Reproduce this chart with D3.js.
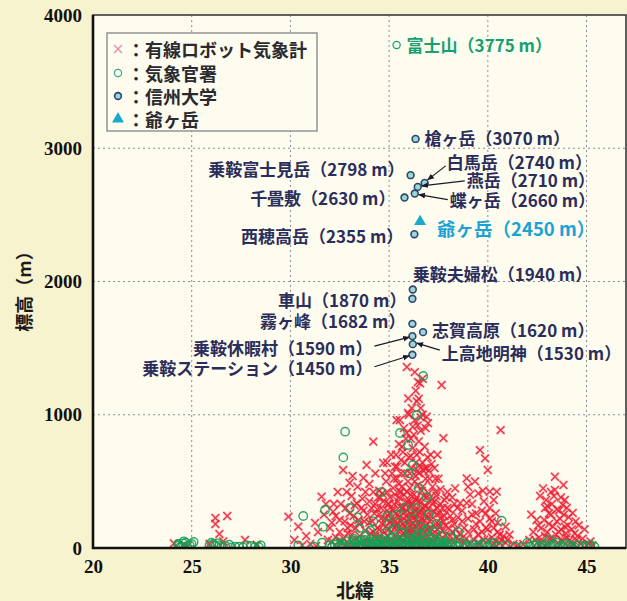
<!DOCTYPE html>
<html>
<head>
<meta charset="utf-8">
<script src="https://cdn.jsdelivr.net/npm/d3@7"></script>
<style>
  body { margin: 0; background: #f7f3cf; }
  svg { display: block; }
</style>
</head>
<body>
<svg id="chart" width="627" height="601"></svg>
<script>
// ---- data ----------------------------------------------------------
const xTicks = [20, 25, 30, 35, 40, 45];
const yTicks = [0, 1000, 2000, 3000, 4000];
const xTitle = "北緯";
const yTitle = "標高（m）";
const legendLabels = ["有線ロボット気象計", "気象官署", "信州大学", "爺ヶ岳"];

// 有線ロボット気象計 [latitude, elevation m]
const robotStations = [
  [24.1,35],[24.6,20],[26.2,225],[26.2,180],[26.8,240],[26.4,105],[27.7,60],[25.9,30],[24.8,15],[26.6,50],[28.3,25],
  [29.9,235],[30.4,160],[30.2,60],[31.25,188],[31.58,385],[30.8,90],[31.0,30],[31.4,120],[31.9,60],[31.7,250],[32.16,272],
  [31.3,15],[32.0,150],[30.6,20],[31.8,330],
  [32.67,585],[33.0,488],[33.7,525],[33.86,623],[33.36,335],[32.4,420],[32.5,210],[32.8,300],[32.9,150],[33.1,390],
  [33.2,240],[33.4,460],[33.5,180],[33.6,300],[33.8,420],[33.9,250],[32.3,80],[32.6,40],[32.9,110],[33.2,60],[33.5,90],
  [33.8,130],[33.95,30],[33.3,20],[32.2,330],[32.1,190],[33.0,260],[33.65,370],[33.15,540],[32.45,50],[33.75,200],
  [34.0,480],[34.2,798],[34.0,350],
  [32.1,50],[32.3,240],[32.5,120],[32.55,330],[32.7,70],[32.75,200],[32.85,420],[32.95,30],[33.05,170],[33.25,320],
  [34.7,638],[34.3,560],[34.5,430],[34.6,300],[34.8,220],[34.4,150],[34.9,90],[34.1,40],[34.25,260],[34.55,380],
  [34.85,500],[34.95,330],[34.35,70],[34.65,180],[34.75,120],[34.15,200],[34.45,20],[34.9,420],[34.6,50],[34.3,330],
  [34.8,560],[34.5,250],[34.05,110],[34.7,30],[34.2,120],[34.4,290],[34.65,410],[34.85,160],[34.95,240],[34.55,90],
  [35.1,700],[35.3,610],[35.2,450],[35.4,520],[35.6,660],[35.5,380],[35.7,300],[35.8,560],[35.9,420],[35.0,260],
  [35.15,180],[35.35,90],[35.55,140],[35.75,220],[35.95,120],[35.25,330],[35.45,250],[35.65,460],[35.85,340],[35.05,60],
  [35.4,30],[35.7,50],[35.9,80],[35.2,210],[35.6,200],[35.8,160],[35.3,400],[35.5,480],[35.1,120],[35.9,280],
  [35.38,960],[35.9,863],[35.97,1123],[35.96,1013],[35.9,1358],[35.7,720],[35.5,780],[35.8,640],[35.35,700],[35.6,560],
  [35.05,380],[35.45,150],[35.75,400],[35.95,500],[35.25,40],[35.65,100],[35.15,290],[35.55,310],[35.85,240],[35.35,170],
  [35.6,420],[35.0,140],[35.75,110],[35.45,350],[35.25,520],
  [36.3,960],[36.57,1236],[36.46,1246],[36.9,985],[36.97,937],[36.1,820],[36.2,750],[36.4,700],[36.6,880],[36.8,760],
  [36.15,600],[36.35,540],[36.55,620],[36.75,580],[36.95,680],[36.05,450],[36.25,400],[36.45,470],[36.65,430],[36.85,520],
  [36.1,330],[36.3,280],[36.5,350],[36.7,300],[36.9,380],[36.0,220],[36.2,180],[36.4,240],[36.6,160],[36.8,210],
  [36.95,140],[36.05,90],[36.25,60],[36.45,110],[36.65,70],[36.85,40],[36.15,30],[36.55,25],[36.35,150],[36.75,120],
  [36.6,1050],[36.4,1100],[36.2,910],[36.7,1000],[36.5,800],[36.0,680],[36.9,600],[36.3,500],[36.7,460],[36.1,260],
  [36.5,200],[36.8,320],[36.35,360],[36.6,270],[36.15,140],[36.9,250],[36.45,580],[36.05,350],[36.75,390],[36.25,230],
  [33.1,100],[33.3,150],[33.45,210],[33.55,40],[33.7,280],[33.85,60],[34.0,190],[34.1,300],[34.2,420],[34.3,90],
  [34.45,380],[34.5,140],[34.6,220],[34.7,350],[34.8,60],[34.9,280],[35.0,330],[35.05,200],[35.1,40],[35.2,280],
  [35.3,150],[35.35,260],[35.4,190],[35.45,60],[35.5,230],[35.55,420],[35.6,80],[35.65,300],[35.7,180],[35.75,50],
  [35.8,270],[35.85,120],[35.9,350],[35.95,200],[36.0,130],[36.0,300],[36.05,170],[36.1,60],[36.1,400],[36.15,250],
  [36.2,100],[36.2,330],[36.25,140],[36.3,210],[36.3,40],[36.35,280],[36.4,160],[36.4,380],[36.45,60],[36.5,270],
  [36.5,100],[36.55,190],[36.6,340],[36.65,220],[36.7,140],[36.7,40],[36.75,260],[36.8,80],[36.85,310],[36.9,170],
  [36.95,230],[37.0,90],[37.0,410],[37.05,200],[37.1,150],[37.15,360],[37.2,50],[37.25,280],[37.3,120],[37.35,420],
  [37.4,80],[37.45,300],[37.5,180],[37.55,100],[37.6,330],[37.65,230],[37.7,130],[37.75,40],[37.8,240],[37.85,170],
  [37.9,380],[38.0,150],[38.05,290],[38.1,90],[38.2,210],[38.25,40],[38.3,330],[38.4,140],[38.5,230],[38.55,60],
  [34.9,640],[35.15,560],[35.4,610],[35.65,760],[35.85,820],[36.05,560],[36.1,690],[36.25,850],[36.35,640],[36.5,560],
  [36.55,720],[36.7,640],[36.8,600],[36.85,900],[36.45,920],[36.15,1050],[36.35,1180],[36.5,1120],[36.6,980],[37.0,580],
  [37.15,630],[37.35,520],[37.45,700],[35.75,900],[35.55,960],[36.0,1000],[36.3,1320],[36.7,1270],
  [37.66,1223],[37.75,825],[37.1,700],[37.3,600],[37.5,520],[37.2,460],[37.4,390],[37.6,440],[37.8,360],[37.0,300],
  [37.15,240],[37.35,180],[37.55,260],[37.75,200],[37.95,300],[38.1,240],[38.3,180],[37.05,120],[37.25,80],[37.45,140],
  [37.65,60],[37.85,100],[38.0,50],[38.2,120],[38.4,80],[37.1,30],[37.5,20],[37.9,30],[38.34,448],[38.2,380],
  [37.95,420],[38.45,300],[37.3,350],[37.7,300],[37.05,520],[37.4,250],[37.6,160],[37.2,330],
  [38.93,523],[39.6,735],[39.86,673],[40.0,585],[40.1,423],[40.45,423],[39.52,410],[38.6,338],[38.93,338],[40.1,300],
  [40.65,885],[39.2,250],[39.4,180],[39.0,120],[38.7,200],[39.7,280],[39.9,150],[40.2,200],[40.5,120],[40.8,90],
  [39.3,60],[38.8,40],[39.6,30],[40.0,60],[40.3,35],[40.6,40],[41.0,60],[41.3,30],[40.4,260],[39.8,350],
  [39.1,400],[38.6,100],[40.9,160],[39.5,100],
  [38.7,280],[38.8,150],[38.9,70],[39.0,220],[39.1,30],[39.2,330],[39.3,140],[39.4,260],[39.5,40],[39.6,200],
  [39.7,120],[39.8,60],[39.9,260],[40.0,140],[40.1,220],[40.2,80],[40.3,150],[40.4,50],[40.5,190],[40.6,100],
  [40.7,60],[40.9,40],[41.1,100],[39.0,460],[39.35,500],[39.75,430],[40.3,360],
  [41.8,30],[42.1,60],[42.47,210],[42.65,390],[42.8,448],[43.05,310],[43.4,535],[43.4,435],[43.83,473],[43.8,323],
  [44.3,263],[42.3,120],[42.5,40],[42.7,150],[42.9,90],[43.1,180],[43.2,250],[43.3,60],[43.5,200],[43.6,120],
  [43.7,380],[43.9,160],[44.0,80],[44.1,230],[44.2,40],[44.4,110],[44.5,60],[44.7,30],[45.0,20],[45.2,50],
  [42.9,300],[43.6,280],[43.0,30],[43.8,50],[44.6,170],[42.2,250],[42.6,80],[41.5,20],
  [42.4,60],[42.55,170],[42.75,40],[42.85,210],[43.0,120],[43.1,260],[43.15,70],[43.25,330],[43.3,160],[43.35,390],
  [43.45,100],[43.5,290],[43.55,40],[43.65,220],[43.7,140],[43.75,60],[43.85,250],[43.95,110],[44.05,170],[44.15,60],
  [44.25,140],[44.35,30],[44.45,200],[44.55,90],[44.8,70],[44.9,140],[45.1,30],[45.3,20],[43.2,420],[43.9,360],
  [42.95,360],[44.0,300]
];

// 気象官署 [latitude, elevation m]
const jmaStations = [
  [24.3,30],[24.5,10],[24.7,40],[24.9,20],[25.1,45],[24.4,5],[26.2,15],[26.5,8],[27.0,5],[27.4,10],[27.8,20],[28.2,5],
  [28.4,8],[26.0,40],[26.3,35],
  [24.35,20],[24.55,35],[24.75,10],[25.0,30],[24.6,50],[25.9,20],[26.1,30],[26.4,20],[26.7,15],[26.9,25],[27.2,10],
  [27.6,5],[28.0,15],[28.5,20],
  [30.65,240],[31.75,285],[31.65,160],[32.77,873],[32.68,680],[30.4,20],[31.2,10],[31.6,40],[32.0,20],[32.4,5],
  [33.0,15],[33.3,30],[33.6,10],[33.9,40],[34.1,20],[34.3,5],[34.5,30],[34.7,15],[34.9,50],[35.1,10],[35.3,25],
  [35.5,5],[35.7,40],[35.9,20],[36.1,10],[36.3,35],[36.5,15],[36.7,5],[36.9,30],[37.1,20],[37.3,10],[37.5,40],
  [37.7,5],[37.9,15],[33.2,70],[33.8,90],[34.4,60],[34.8,110],[35.2,80],[35.6,120],[36.0,60],[36.4,90],[36.8,130],
  [37.2,70],[37.6,50],[33.5,150],[34.2,200],[35.0,180],[35.4,250],[35.8,300],[36.2,220],[36.6,160],[37.0,250],
  [37.4,180],[35.55,863],[36.4,998],[35.96,773],[36.2,623],[36.73,1291],[36.0,560],[36.5,450],[36.9,380],[34.6,420],
  [33.0,300],[33.4,230],
  [32.1,5],[32.25,25],[32.35,45],[32.5,15],[32.6,35],[32.7,10],[32.85,50],[32.95,20],[33.1,40],[33.15,5],[33.25,55],
  [33.4,15],[33.45,45],[33.55,25],[33.7,5],[33.75,60],[33.85,20],[34.0,10],[34.0,50],[34.15,35],[34.25,55],[34.35,20],
  [34.45,45],[34.55,5],[34.6,65],[34.75,40],[34.85,10],[35.0,35],[35.05,70],[35.15,50],[35.2,15],[35.35,5],[35.4,55],
  [35.45,30],[35.6,20],[35.65,60],[35.8,10],[35.85,45],[36.0,30],[36.05,75],[36.2,50],[36.25,15],[36.35,65],[36.45,40],
  [36.55,5],[36.6,55],[36.75,25],[36.85,60],[37.0,5],[37.05,45],[37.2,35],[37.35,55],[37.45,15],[37.55,25],[37.8,40],
  [38.0,10],[38.1,35],[38.35,20],[38.6,40],[38.95,10],[39.25,30],[39.55,15],[39.85,40],[40.15,20],[40.5,10],
  [33.6,60],[34.05,130],[34.9,240],[35.25,140],[35.7,170],[36.1,120],[36.35,300],[36.55,100],[36.95,140],[37.3,120],
  [37.7,90],[38.1,80],[38.5,120],
  [38.2,20],[38.5,10],[38.8,30],[39.1,15],[39.4,5],[39.7,25],[40.0,10],[40.3,40],[40.7,205],[40.9,20],[41.4,10],
  [41.8,5],[42.3,20],[42.6,10],[42.9,30],[43.2,15],[43.5,40],[43.8,10],[44.1,25],[44.4,5],[44.8,15],[45.4,10],
  [43.1,60],[42.0,40],
  [42.15,10],[42.45,30],[42.75,15],[43.05,5],[43.35,25],[43.65,10],[43.95,30],[44.25,15],[44.6,20],[45.0,5],[45.2,25]
];

// 富士山 (気象官署)
const fujiName = "富士山";
const fujiLat = 35.38;
const fujiElev = 3775;

// 信州大学
const shinshuNames = ["槍ヶ岳","乗鞍富士見岳","白馬岳","燕岳","蝶ヶ岳","千畳敷","西穂高岳",
  "乗鞍夫婦松","車山","霧ヶ峰","志賀高原","乗鞍休暇村","上高地明神","乗鞍ステーション"];
const shinshuLat  = [36.34, 36.09, 36.80, 36.45, 36.30, 35.78, 36.28, 36.20, 36.18, 36.18, 36.72, 36.18, 36.20, 36.18];
const shinshuElev = [3070, 2798, 2740, 2710, 2660, 2630, 2355, 1940, 1870, 1682, 1620, 1590, 1530, 1450];

// 爺ヶ岳
const jiiName = "爺ヶ岳";
const jiiLat = 36.57;
const jiiElev = 2450;

// ---- label placement (pixel offsets from the marker) ---------------
// [dx, dy, anchor, arrowStartDx, arrowStartDy, arrowEndDx, arrowEndDy]
const labelLayout = {
  "槍ヶ岳":         [9, -1, "start"],
  "乗鞍富士見岳":   [-6, -7, "end"],
  "白馬岳":         [22, -21, "start", 21, -17, 3, -3],
  "燕岳":           [49, -7, "start", 47, -6, 4, -1],
  "蝶ヶ岳":         [35, 6, "start", 33, 6, 4, 1],
  "千畳敷":         [-9, 0, "end"],
  "西穂高岳":       [-11, 1, "end"],
  "乗鞍夫婦松":     [0, -16, "start"],
  "車山":           [-6, 1, "end"],
  "霧ヶ峰":         [-7, -3, "end"],
  "志賀高原":       [9, -3, "start"],
  "乗鞍休暇村":     [-40, 11, "end", -38, 10, -3, 1],
  "上高地明神":     [29, 8, "start", 27, 6, 4, -1],
  "乗鞍ステーション": [-40, 13, "end", -38, 12, -3, 1]
};

// ---- chart ---------------------------------------------------------
const W = 627, H = 601;
const plot = { left: 93, right: 626, top: 15, bottom: 548 };
const JP = "'Noto Sans CJK JP', 'Noto Sans', sans-serif";
const SERIF = "'Liberation Serif', 'DejaVu Serif', serif";
const labelColor = "#2b2d5a";
const stationLabel = (name, elev) => `${name}（${elev} m）`;

const svg = d3.select("#chart");
const x = d3.scaleLinear().domain([20, 47]).range([plot.left, plot.right]);
const y = d3.scaleLinear().domain([0, 4000]).range([plot.bottom, plot.top]);

svg.append("rect").attr("width", W).attr("height", H).attr("fill", "#f7f3cf");
svg.append("rect")
  .attr("x", plot.left).attr("y", plot.top)
  .attr("width", plot.right - plot.left).attr("height", plot.bottom - plot.top)
  .attr("fill", "#fdfcef");

const defs = svg.append("defs");
defs.append("clipPath").attr("id", "plotClip").append("rect")
  .attr("x", plot.left).attr("y", plot.top)
  .attr("width", plot.right - plot.left).attr("height", plot.bottom - plot.top);
defs.append("marker")
  .attr("id", "arrowHead").attr("viewBox", "0 0 10 10")
  .attr("refX", 9).attr("refY", 5)
  .attr("markerWidth", 7).attr("markerHeight", 7)
  .attr("markerUnits", "userSpaceOnUse")
  .attr("orient", "auto")
  .append("path").attr("d", "M0,1L10,5L0,9Z").attr("fill", "#1a1a2a");

// grid
const grid = svg.append("g").attr("stroke", "#8c8c9c").attr("stroke-width", 1)
  .attr("stroke-dasharray", "2,3");
grid.selectAll("line.v").data(xTicks.filter(t => t > 20)).join("line")
  .attr("x1", d => x(d)).attr("x2", d => x(d))
  .attr("y1", plot.top).attr("y2", plot.bottom);
grid.selectAll("line.h").data(yTicks.filter(t => t > 0 && t < 4000)).join("line")
  .attr("x1", plot.left).attr("x2", plot.right)
  .attr("y1", d => y(d)).attr("y2", d => y(d));

// points
const pts = svg.append("g").attr("clip-path", "url(#plotClip)");
const xSym = d3.symbol().type(d3.symbolTimes).size(42);
const robotG = pts.append("g");
robotG.selectAll("path.halo").data(robotStations).join("path")
  .attr("class", "halo")
  .attr("d", xSym)
  .attr("transform", d => `translate(${x(d[0])},${y(d[1])})`)
  .attr("fill", "none").attr("stroke", "#f6a8bc").attr("stroke-width", 3.4)
  .attr("stroke-opacity", 0.4);
robotG.selectAll("path.core").data(robotStations).join("path")
  .attr("class", "core")
  .attr("d", xSym)
  .attr("transform", d => `translate(${x(d[0])},${y(d[1])})`)
  .attr("fill", "none").attr("stroke", "#ec2232").attr("stroke-width", 1.4)
  .attr("stroke-opacity", 0.9);

pts.append("g").selectAll("circle").data(jmaStations).join("circle")
  .attr("cx", d => x(d[0])).attr("cy", d => y(d[1])).attr("r", 4.2)
  .attr("fill", "none").attr("stroke", "#16a055").attr("stroke-width", 1.4)
  .attr("stroke-opacity", 0.9);

pts.append("circle")
  .attr("cx", x(fujiLat)).attr("cy", y(fujiElev)).attr("r", 3.6)
  .attr("fill", "#eef8f2").attr("stroke", "#17a06a").attr("stroke-width", 1.2);

const shinshu = shinshuNames.map((n, i) => ({ name: n, lat: shinshuLat[i], elev: shinshuElev[i] }));
pts.append("g").selectAll("circle").data(shinshu).join("circle")
  .attr("cx", d => x(d.lat)).attr("cy", d => y(d.elev)).attr("r", 3.4)
  .attr("fill", "#9fd4d8").attr("stroke", "#2c4868").attr("stroke-width", 1.6);

pts.append("path")
  .attr("d", d3.symbol().type(d3.symbolTriangle).size(62))
  .attr("transform", `translate(${x(jiiLat)},${y(jiiElev)})`)
  .attr("fill", "#1aa8cc");

// frame
svg.append("rect")
  .attr("x", plot.left).attr("y", plot.top)
  .attr("width", plot.right - plot.left).attr("height", plot.bottom - plot.top)
  .attr("fill", "none").attr("stroke", "#3a3a40").attr("stroke-width", 1.6);
svg.append("path")
  .attr("d", `M${plot.left},${plot.top}V${plot.bottom}H${plot.right}`)
  .attr("fill", "none").attr("stroke", "#111").attr("stroke-width", 2.6);

// axes tick labels
const xAxis = d3.axisBottom(x).tickValues(xTicks).tickFormat(d3.format("d")).tickSize(0).tickPadding(12);
const gx = svg.append("g").attr("transform", `translate(0,${plot.bottom})`).call(xAxis);
gx.select(".domain").remove();
gx.selectAll("text").style("font-family", SERIF).style("font-weight", "bold")
  .style("font-size", "19px").attr("fill", "#111");

const yAxis = d3.axisLeft(y).tickValues(yTicks).tickFormat(d3.format("d")).tickSize(0).tickPadding(11);
const gy = svg.append("g").attr("transform", `translate(${plot.left},0)`).call(yAxis);
gy.select(".domain").remove();
gy.selectAll("text").style("font-family", SERIF).style("font-weight", "bold")
  .style("font-size", "19px").attr("fill", "#111");

// axis titles
svg.append("text")
  .attr("x", 355).attr("y", 589)
  .attr("text-anchor", "middle").attr("dominant-baseline", "central")
  .attr("font-family", JP).attr("font-weight", "bold").attr("font-size", 19)
  .attr("fill", "#1a1a1a").text(xTitle);
svg.append("text")
  .attr("transform", "translate(23,287) rotate(-90)")
  .attr("text-anchor", "middle").attr("dominant-baseline", "central")
  .attr("font-family", JP).attr("font-weight", "bold").attr("font-size", 18)
  .attr("fill", "#1a1a1a").text(yTitle);

// station labels
const lab = svg.append("g").attr("font-family", JP).attr("font-weight", "bold")
  .attr("font-size", 17).attr("fill", labelColor);
shinshu.forEach(d => {
  const L = labelLayout[d.name];
  const px = x(d.lat), py = y(d.elev);
  lab.append("text")
    .attr("x", px + L[0]).attr("y", py + L[1])
    .attr("text-anchor", L[2]).attr("dominant-baseline", "central")
    .text(stationLabel(d.name, d.elev));
  if (L.length > 3) {
    lab.append("line")
      .attr("x1", px + L[3]).attr("y1", py + L[4])
      .attr("x2", px + L[5]).attr("y2", py + L[6])
      .attr("stroke", "#1a1a2a").attr("stroke-width", 1.2)
      .attr("marker-end", "url(#arrowHead)");
  }
});
svg.append("text")
  .attr("x", x(fujiLat) + 10).attr("y", y(fujiElev))
  .attr("dominant-baseline", "central")
  .attr("font-family", JP).attr("font-weight", "bold").attr("font-size", 17)
  .attr("fill", "#14a070").text(stationLabel(fujiName, fujiElev));
svg.append("text")
  .attr("x", x(jiiLat) + 17).attr("y", y(jiiElev) + 6)
  .attr("dominant-baseline", "central")
  .attr("font-family", JP).attr("font-weight", "bold").attr("font-size", 18.5)
  .attr("fill", "#1aa2d4").text(stationLabel(jiiName, jiiElev));

// legend
const lg = svg.append("g");
lg.append("rect").attr("x", 107).attr("y", 33).attr("width", 210).attr("height", 98)
  .attr("fill", "#fdfcef").attr("stroke", "#7a7a80").attr("stroke-width", 1.2);
const rowY = [49, 73, 96, 119];
lg.append("path").attr("d", xSym).attr("transform", `translate(118,${rowY[0]})`)
  .attr("fill", "none").attr("stroke", "#e88aa0").attr("stroke-width", 1.3);
lg.append("circle").attr("cx", 118).attr("cy", rowY[1]).attr("r", 3.6)
  .attr("fill", "none").attr("stroke", "#3aa88a").attr("stroke-width", 1.2);
lg.append("circle").attr("cx", 118).attr("cy", rowY[2]).attr("r", 3.4)
  .attr("fill", "#9fd4d8").attr("stroke", "#2c4868").attr("stroke-width", 1.6);
lg.append("path").attr("d", d3.symbol().type(d3.symbolTriangle).size(62))
  .attr("transform", `translate(118,${rowY[3]})`).attr("fill", "#1aa8cc");
lg.selectAll("text").data(legendLabels).join("text")
  .attr("x", 127).attr("y", (d, i) => rowY[i])
  .attr("dominant-baseline", "central")
  .attr("font-family", JP).attr("font-weight", "bold").attr("font-size", 18)
  .attr("fill", "#2a2a30")
  .text(d => "：" + d);
</script>
</body>
</html>
